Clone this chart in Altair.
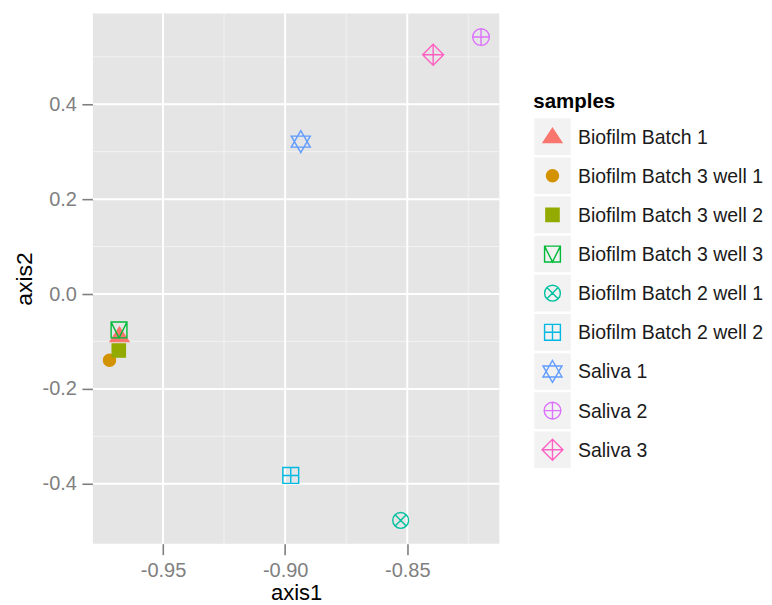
import altair as alt
import pandas as pd

# ---- data ----
samples = [
    "Biofilm Batch 1",
    "Biofilm Batch 3 well 1",
    "Biofilm Batch 3 well 2",
    "Biofilm Batch 3 well 3",
    "Biofilm Batch 2 well 1",
    "Biofilm Batch 2 well 2",
    "Saliva 1",
    "Saliva 2",
    "Saliva 3",
]
axis1 = [-0.9678, -0.9719, -0.9681, -0.9680, -0.8527, -0.8977, -0.8936, -0.8198, -0.8394]
axis2 = [-0.0872, -0.1398, -0.1190, -0.0758, -0.4773, -0.3825, 0.3213, 0.5417, 0.5044]

x_ticks = [-0.95, -0.90, -0.85]
x_minor = [-0.925, -0.875, -0.825]
y_ticks = [-0.4, -0.2, 0.0, 0.2, 0.4]
y_minor = [-0.3, -0.1, 0.1, 0.3, 0.5]
x_limits = [-0.9787, -0.8123]
y_limits = [-0.5263, 0.5916]
legend_title = "samples"

# ---- styles ----
colors = ["#F8766D", "#D39200", "#93AA00", "#00BA38", "#00C19F",
          "#00B9E3", "#619CFF", "#DB72FB", "#FF61C3"]
filled = [True, True, True, False, False, False, False, False, False]
fills = [c if f else "transparent" for c, f in zip(colors, filled)]

def circ(r):
    return f"M{-r},0A{r},{r},0,1,0,{r},0A{r},{r},0,1,0,{-r},0Z"

shapes = [
    "M0,-0.75L0.85,0.55L-0.85,0.55Z",                                  # filled triangle
    circ(0.55),                                                         # filled circle
    "M-0.6,-0.6H0.6V0.6H-0.6Z",                                         # filled square
    "M-0.72,-0.72H0.72V0.72H-0.72Z M-0.72,-0.72L0,0.72L0.72,-0.72",     # square + V
    circ(0.72) + " M-0.51,-0.51L0.51,0.51 M-0.51,0.51L0.51,-0.51",      # circle X
    "M-0.72,-0.72H0.72V0.72H-0.72Z M0,-0.72V0.72 M-0.72,0H0.72",        # square plus
    "M0,-1L0.866,0.5L-0.866,0.5Z M0,1L0.866,-0.5L-0.866,-0.5Z",         # star of david
    circ(0.76) + " M0,-0.76V0.76 M-0.76,0H0.76",                        # circle plus
    "M0,-0.95L0.95,0L0,0.95L-0.95,0Z M0,-0.95V0.95 M-0.95,0H0.95",      # diamond plus
]

FONT = "Liberation Sans"
GREY = "#7F7F7F"

df = pd.DataFrame({"sample": samples, "axis1": axis1, "axis2": axis2})

xscale = alt.Scale(domain=x_limits, nice=False, zero=False)
yscale = alt.Scale(domain=y_limits, nice=False, zero=False)

x_axis = alt.Axis(
    values=x_ticks, title="axis1", grid=False, domain=False,
    tickSize=11, tickWidth=1.6, tickColor=GREY,
    labelFontSize=20, labelColor=GREY, labelPadding=6, labelFont=FONT,
    format=".2f", labelExpr="replace(datum.label, '\u2212', '-')",
    titleFontSize=22, titleFontWeight="normal", titleColor="black",
    titlePadding=2, titleFont=FONT,
)
y_axis = alt.Axis(
    values=y_ticks, title="axis2", grid=False, domain=False,
    tickSize=11, tickWidth=1.6, tickColor=GREY,
    labelFontSize=20, labelColor=GREY, labelPadding=5.5, labelFont=FONT,
    format=".1f", labelExpr="replace(datum.label, '\u2212', '-')",
    titleFontSize=23, titleFontWeight="normal", titleColor="black",
    titlePadding=6, titleFont=FONT,
)

shape_enc = alt.Shape("sample:N", scale=alt.Scale(domain=samples, range=shapes), legend=None)
stroke_enc = alt.Stroke("sample:N", scale=alt.Scale(domain=samples, range=colors), legend=None)
fill_enc = alt.Fill("sample:N", scale=alt.Scale(domain=samples, range=fills), legend=None)

minor_v = alt.Chart(pd.DataFrame({"v": x_minor})).mark_rule(color="#F2F2F2", strokeWidth=1).encode(
    x=alt.X("v:Q", scale=xscale, axis=x_axis))
minor_h = alt.Chart(pd.DataFrame({"v": y_minor})).mark_rule(color="#F2F2F2", strokeWidth=1).encode(
    y=alt.Y("v:Q", scale=yscale, axis=y_axis))
major_v = alt.Chart(pd.DataFrame({"v": x_ticks})).mark_rule(color="white", strokeWidth=2).encode(
    x=alt.X("v:Q", scale=xscale, axis=x_axis))
major_h = alt.Chart(pd.DataFrame({"v": y_ticks})).mark_rule(color="white", strokeWidth=2).encode(
    y=alt.Y("v:Q", scale=yscale, axis=y_axis))

points = alt.Chart(df).mark_point(size=484, strokeWidth=1.4, opacity=1, filled=False).encode(
    x=alt.X("axis1:Q", scale=xscale, axis=x_axis),
    y=alt.Y("axis2:Q", scale=yscale, axis=y_axis),
    shape=shape_enc, stroke=stroke_enc, fill=fill_enc,
)

main = alt.layer(minor_v, minor_h, major_v, major_h, points).properties(
    width=407, height=531,
    view=alt.ViewBackground(fill="#E5E5E5", stroke="transparent", strokeWidth=0),
)

# ---- legend panel ----
leg_df = pd.DataFrame({"sample": samples})
ly = alt.Y("sample:N", axis=None,
           scale=alt.Scale(type="band", domain=samples, range=[105, 455.3],
                           paddingInner=0.064, paddingOuter=0))

keys = alt.Chart(leg_df).mark_rect(color="#F2F2F2").encode(
    y=ly, x=alt.value(0), x2=alt.value(36.5))
key_shapes = alt.Chart(leg_df).mark_point(size=484, strokeWidth=1.4, opacity=1, filled=False).encode(
    y=ly, x=alt.value(18.2), shape=shape_enc, stroke=stroke_enc, fill=fill_enc)
labels = alt.Chart(leg_df).mark_text(
    align="left", baseline="middle", fontSize=19.5, font=FONT, color="#1A1A1A", dy=1
).encode(y=ly, x=alt.value(43.7), text="sample:N")
title = alt.Chart(pd.DataFrame({"t": [legend_title]})).mark_text(
    align="left", baseline="alphabetic", fontSize=20.5, fontWeight="bold", font=FONT, color="black"
).encode(x=alt.value(-1), y=alt.value(94.4), text="t:N")

legend = alt.layer(keys, key_shapes, labels, title).properties(
    width=228, height=531,
    view=alt.ViewBackground(fill="transparent", stroke="transparent", strokeWidth=0),
)

chart = alt.hconcat(main, legend, spacing=33).properties(
    padding={"left": 5, "top": 4, "right": 0, "bottom": 0}
).configure(font=FONT)

chart.save("out.html", embed_options={"renderer": "svg", "actions": False})
